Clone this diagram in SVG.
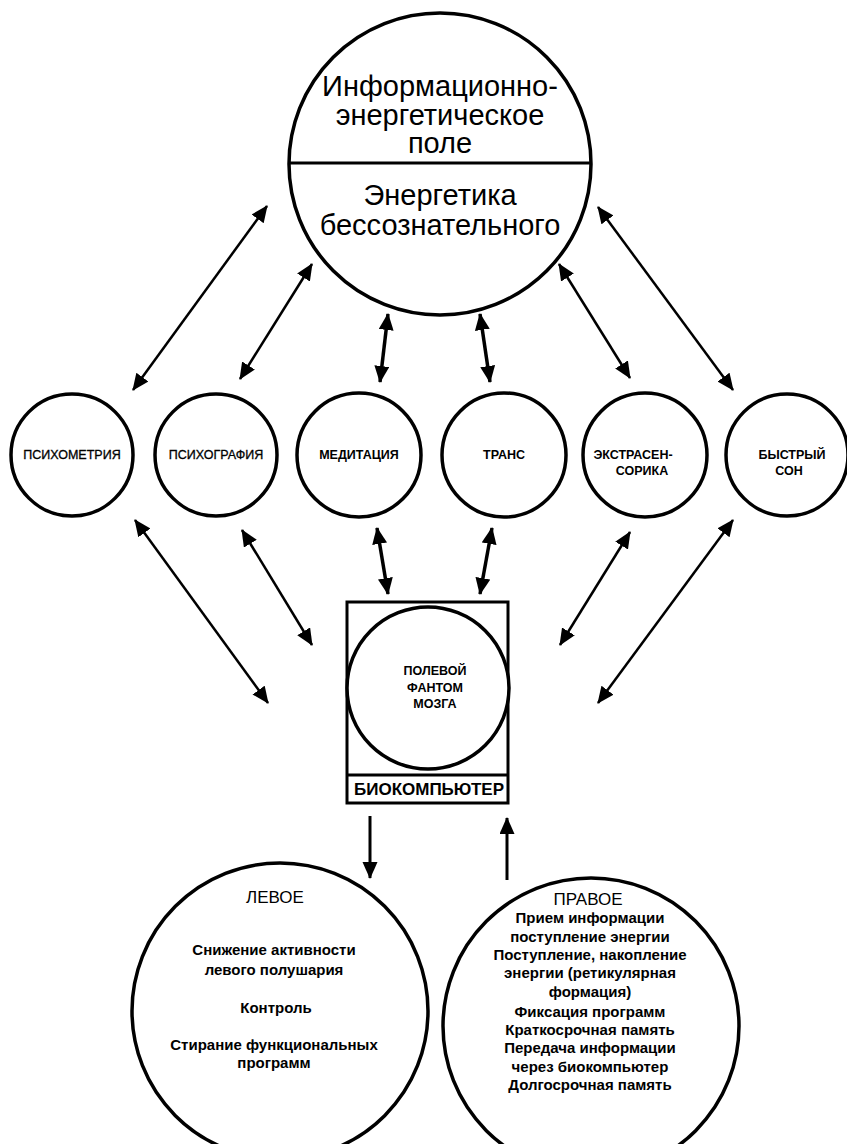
<svg xmlns="http://www.w3.org/2000/svg" width="847" height="1144" viewBox="0 0 847 1144">
  <style>
    .ring { fill: #fff; stroke: #000; stroke-width: 3.5; }
    .frame { fill: none; stroke: #000; stroke-width: 3; }
    .big { font-family: "Liberation Sans", Arial, sans-serif; font-size: 29px; text-anchor: middle; fill: #000; }
    .cap { font-family: "Liberation Sans", Arial, sans-serif; font-size: 12.5px; text-anchor: middle; fill: #000; stroke: #000; stroke-width: 0.3; }
    .capb { font-family: "Liberation Sans", Arial, sans-serif; font-size: 12.5px; font-weight: bold; text-anchor: middle; fill: #000; }
    .box { font-family: "Liberation Sans", Arial, sans-serif; font-size: 17px; font-weight: bold; text-anchor: middle; fill: #000; }
    .head { font-family: "Liberation Sans", Arial, sans-serif; font-size: 17px; text-anchor: middle; fill: #000; }
    .body { font-family: "Liberation Sans", Arial, sans-serif; font-size: 15px; font-weight: bold; text-anchor: middle; fill: #000; }
    .link { stroke: #000; stroke-width: 2.5; fill: none; marker-start: url(#tip); marker-end: url(#tip); }
    .link.thick { stroke-width: 3.5; }
    .one { stroke: #000; stroke-width: 3; fill: none; marker-end: url(#tip); }
  </style>
  <defs>
    <marker id="tip" markerUnits="userSpaceOnUse" markerWidth="19" markerHeight="17" refX="16" refY="7.5" orient="auto-start-reverse">
      <path d="M0,0 L17,7.5 L0,15 z" fill="#000"/>
    </marker>
  </defs>
  <rect width="847" height="1144" fill="#fff"/>

  <!-- information-energy field -->
  <g id="field">
    <circle class="ring" cx="440" cy="164" r="151"/>
    <line x1="289" y1="163" x2="591" y2="163" stroke="#000" stroke-width="3"/>
    <text class="big" x="440" y="96">Информационно-</text>
    <text class="big" x="440" y="125">энергетическое</text>
    <text class="big" x="440" y="153">поле</text>
    <text class="big" x="440" y="205">Энергетика</text>
    <text class="big" x="440" y="235">бессознательного</text>
  </g>

  <!-- states row -->
  <g id="psychometry">
    <circle class="ring" cx="72" cy="455" r="61"/>
    <text class="cap" x="72" y="459">ПСИХОМЕТРИЯ</text>
  </g>
  <g id="psychography">
    <circle class="ring" cx="216" cy="455" r="61"/>
    <text class="cap" x="216" y="459">ПСИХОГРАФИЯ</text>
  </g>
  <g id="meditation">
    <circle class="ring" cx="359" cy="455" r="62"/>
    <text class="capb" x="359" y="459">МЕДИТАЦИЯ</text>
  </g>
  <g id="trance">
    <circle class="ring" cx="504" cy="455" r="62"/>
    <text class="capb" x="504" y="459">ТРАНС</text>
  </g>
  <g id="extrasensory">
    <circle class="ring" cx="645" cy="455" r="62"/>
    <text class="capb" x="633" y="459">ЭКСТРАСЕН-</text>
    <text class="capb" x="642" y="475">СОРИКА</text>
  </g>
  <g id="rem-sleep">
    <circle class="ring" cx="787" cy="455" r="61"/>
    <text class="capb" x="792" y="459">БЫСТРЫЙ</text>
    <text class="capb" x="789" y="475">СОН</text>
  </g>

  <!-- biocomputer -->
  <g id="biocomputer">
    <rect class="frame" x="347" y="602" width="161" height="201"/>
    <line x1="347" y1="775" x2="508" y2="775" stroke="#000" stroke-width="3"/>
    <circle class="ring" cx="428" cy="688" r="81"/>
    <text class="capb" x="435" y="675">ПОЛЕВОЙ</text>
    <text class="capb" x="435" y="692">ФАНТОМ</text>
    <text class="capb" x="435" y="708">МОЗГА</text>
    <text class="box" x="429" y="795">БИОКОМПЬЮТЕР</text>
  </g>

  <!-- hemispheres -->
  <g id="left-hemisphere">
    <circle class="ring" cx="280" cy="1011" r="148"/>
    <text class="head" x="275" y="903">ЛЕВОЕ</text>
    <text class="body" x="274" y="955">Снижение активности</text>
    <text class="body" x="274" y="975">левого полушария</text>
    <text class="body" x="276" y="1013">Контроль</text>
    <text class="body" x="274" y="1050">Стирание функциональных</text>
    <text class="body" x="274" y="1068">программ</text>
  </g>
  <g id="right-hemisphere">
    <circle class="ring" cx="591" cy="1026" r="148"/>
    <text class="head" x="588" y="905">ПРАВОЕ</text>
    <text class="body" x="590" y="923">Прием информации</text>
    <text class="body" x="590" y="942">поступление энергии</text>
    <text class="body" x="590" y="960">Поступление, накопление</text>
    <text class="body" x="590" y="978">энергии (ретикулярная</text>
    <text class="body" x="590" y="997">формация)</text>
    <text class="body" x="590" y="1017">Фиксация программ</text>
    <text class="body" x="590" y="1035">Краткосрочная память</text>
    <text class="body" x="590" y="1053">Передача информации</text>
    <text class="body" x="590" y="1072">через биокомпьютер</text>
    <text class="body" x="590" y="1090">Долгосрочная память</text>
  </g>

  <!-- connectors -->
  <g id="connectors">
    <line class="link" x1="133" y1="390" x2="267" y2="206"/>
    <line class="link" x1="240" y1="379" x2="312" y2="264"/>
    <line class="link thick" x1="380" y1="382" x2="388" y2="314"/>
    <line class="link thick" x1="490" y1="382" x2="480" y2="314"/>
    <line class="link" x1="630" y1="378" x2="559" y2="264"/>
    <line class="link" x1="733" y1="390" x2="598" y2="207"/>

    <line class="link" x1="135" y1="520" x2="268" y2="703"/>
    <line class="link" x1="242" y1="530" x2="312" y2="645"/>
    <line class="link thick" x1="377" y1="528" x2="388" y2="594"/>
    <line class="link thick" x1="492" y1="528" x2="480" y2="594"/>
    <line class="link" x1="630" y1="532" x2="560" y2="645"/>
    <line class="link" x1="733" y1="520" x2="598" y2="703"/>

    <line class="one" x1="370" y1="816" x2="370" y2="878"/>
    <line class="one" x1="507" y1="880" x2="507" y2="818"/>
  </g>
</svg>
